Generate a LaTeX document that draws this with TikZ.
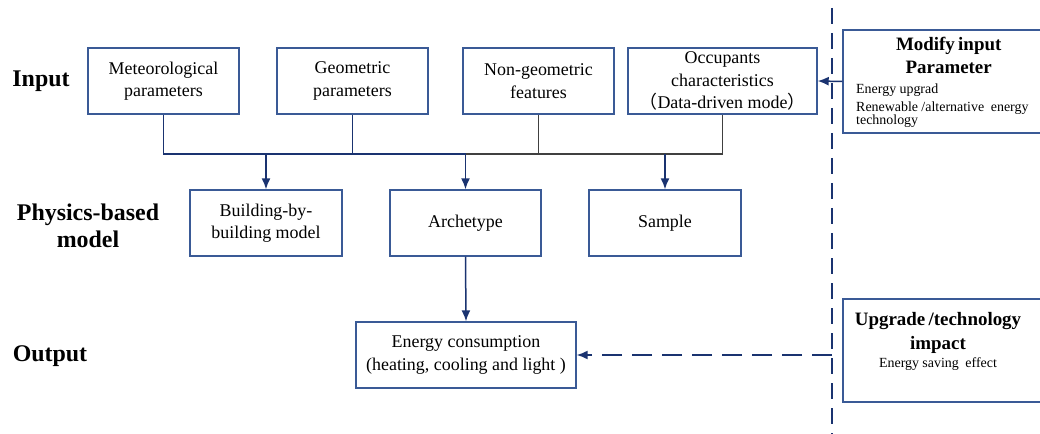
\documentclass[tikz,border=0pt]{standalone}
\usepackage{fontspec}
\setmainfont{Liberation Serif}
\newfontfamily\cjk{Noto Sans CJK SC}
\usetikzlibrary{arrows.meta}

\definecolor{boxblue}{HTML}{3A5A96}
\definecolor{arrowblue}{HTML}{1A3370}
\definecolor{busgray}{HTML}{404040}

\tikzset{
  box/.style={draw=boxblue, line width=1.4bp, minimum width=151bp, minimum height=66bp, align=center, inner sep=2bp, font=\fontsize{18}{22.5}\selectfont},
  outerbox/.style={draw=boxblue, line width=1.4bp},
  rowlabel/.style={font=\bfseries\fontsize{24}{27}\selectfont, align=center},
  link/.style={arrowblue, line width=1.5bp},
  busline/.style={busgray, line width=1.5bp},
}

\begin{document}
\begin{tikzpicture}[x=1bp, y=-1bp, every path/.style={-{Latex[length=11bp,width=9bp]}}]
    \useasboundingbox [-] (0,0) rectangle (1040,434);

    \node (lbl-in) [rowlabel, at={(41,81)}] {Input};
    \node (lbl-phys) [rowlabel, at={(88,226)}] {Physics-based\\model};
    \node (lbl-out) [rowlabel, at={(50,356)}] {Output};

    \node (met) [box, at={(163.5,81)}] {Meteorological\\parameters};
    \node (geo) [box, at={(352.5,81)}] {Geometric\\parameters};
    \node (nongeo) [box, at={(538.5,81)}] {Non-geometric\\features};
    \node (occ) [box, minimum width=189bp, at={(722.5,81)}] {Occupants\\characteristics\\{\cjk （}Data-driven mode{\cjk ）}};

    \node (bbb) [box, minimum width=152bp, at={(266,223)}] {Building-by-\\building model};
    \node (arch) [box, at={(465.5,223)}] {Archetype};
    \node (sample) [box, minimum width=152bp, at={(665,223)}] {Sample};

    \node (out) [box, minimum width=220bp, at={(466,355)}] {Energy consumption\\(heating, cooling and light )};

    \coordinate (div-top) at (832,8);
    \coordinate (div-bot) at (832,434);
    \coordinate (bus) at (0,154);

    \node (modify) [outerbox, minimum width=202bp, minimum height=103bp, at={(944,81.5)}] {};
    \node (modify-text) [anchor=north west, align=left, text width=185bp, inner sep=0pt, at={(856,37)}] {{\centering\bfseries\fontsize{19}{23}\selectfont Modify input\\Parameter\par}\vspace{2bp}\fontsize{14}{18}\selectfont Energy upgrad\\Renewable /alternative\ \ energy\\technology};
    \node (upgrade) [outerbox, minimum width=202bp, minimum height=103bp, at={(944,350.5)}] {};
    \node (upgrade-text) [anchor=north, align=center, text width=185bp, inner sep=0pt, at={(938,312)}] {{\bfseries\fontsize{19}{24}\selectfont Upgrade /technology\\impact\par}{\fontsize{14}{18}\selectfont Energy saving\ \ effect\par}};

    \draw [link, -] (met.south) -- (met.south |- bus) -- (arch.north |- bus);
    \draw [link, -] (geo.south) -- (geo.south |- bus);
    \draw [busline, -] (arch.north |- bus) -- (occ.south |- bus) -- (occ.south);
    \draw [busline, -] (nongeo.south) -- (nongeo.south |- bus);
    \draw [link] (bbb.north |- bus) -- (bbb.north);
    \draw [link] (arch.north |- bus) -- (arch.north);
    \draw [link] (sample.north |- bus) -- (sample.north);
    \draw [link] (arch.south) -- (out.north);

    \draw [link, -, dash pattern=on 16bp off 9bp] (div-top) -- (div-bot);
    \draw [link] (modify.west) -- (occ.east);
    \draw [link, dash pattern=on 20bp off 10bp] (div-top |- out.east) -- (out.east);
\end{tikzpicture}
\end{document}
